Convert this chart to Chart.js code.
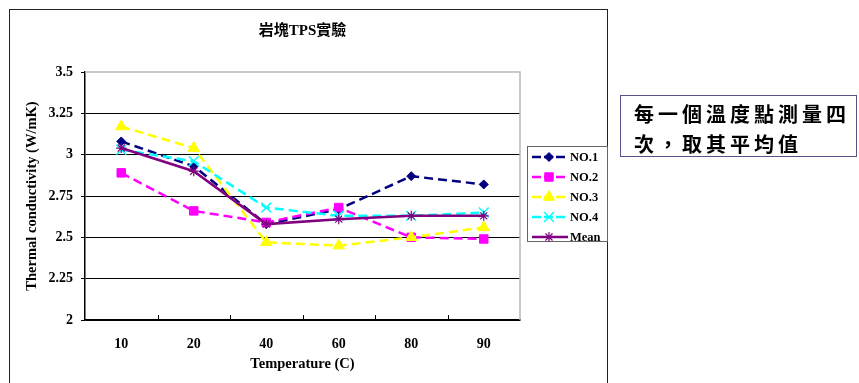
<!DOCTYPE html>
<html><head><meta charset="utf-8">
<script src="https://cdn.jsdelivr.net/npm/chart.js@4/dist/chart.umd.min.js"></script>
<style>
html,body{margin:0;padding:0;background:#fff;width:859px;height:383px;overflow:hidden;}
#wrap{position:relative;width:859px;height:383px;}
#frame{position:absolute;left:9px;top:9px;width:599px;height:420px;border:1.5px solid #222;box-sizing:border-box;}
canvas{position:absolute;left:0;top:0;}
#note{position:absolute;left:620px;top:95px;width:237px;height:62px;border:1.5px solid #55558a;box-sizing:border-box;font-family:"Noto Sans CJK TC","Noto Sans CJK SC",sans-serif;font-weight:bold;font-size:20px;line-height:30px;padding:3px 0 0 13px;letter-spacing:4px;color:#000;white-space:nowrap;}
</style></head>
<body>
<div id="wrap">
<div id="frame"></div>
<canvas id="c" width="859" height="383"></canvas>
<div id="note">每一個溫度點測量四<br>次，取其平均值</div>
</div>
<script>
const chartTitle = '岩塊TPS實驗';
const xTitle = 'Temperature (C)';
const yTitle = 'Thermal conductivity (W/mK)';
const categories = ['10','20','40','60','80','90'];
const yTickLabels = ['2','2.25','2.5','2.75','3','3.25','3.5'];
const seriesNames = ['NO.1','NO.2','NO.3','NO.4','Mean'];
const no1 = [3.08, 2.93, 2.58, 2.67, 2.87, 2.82];
const no2 = [2.89, 2.66, 2.59, 2.68, 2.50, 2.49];
const no3 = [3.17, 3.04, 2.47, 2.45, 2.50, 2.56];
const no4 = [3.03, 2.96, 2.68, 2.63, 2.63, 2.65];
const mean = [3.04, 2.90, 2.58, 2.61, 2.63, 2.63];

const SERIF = '"Liberation Serif","Noto Sans CJK TC",serif';

const styles = [
  {color:'#000080', dash:[9,5], pointStyle:'rectRot', radius:4.5, pbw:1},
  {color:'#FF00FF', dash:[9,5], pointStyle:'rect', radius:6, pbw:1},
  {color:'#FFFF00', dash:[9,5], pointStyle:'triangle', radius:6.5, pbw:1},
  {color:'#00FFFF', dash:[9,5], pointStyle:'crossRot', radius:7, pbw:1.5},
  {color:'#800080', dash:[], pointStyle:'star', radius:5, pbw:1.2}
];
const seriesData = [no1, no2, no3, no4, mean];

const datasets = seriesNames.map((name, i) => ({
  label: name,
  data: seriesData[i],
  borderColor: styles[i].color,
  backgroundColor: styles[i].color,
  borderWidth: 2.5,
  borderDash: styles[i].dash,
  pointStyle: styles[i].pointStyle,
  pointRadius: styles[i].radius,
  pointBorderWidth: styles[i].pbw,
  pointBackgroundColor: styles[i].color,
  pointBorderColor: styles[i].color,
  tension: 0,
  fill: false,
  order: seriesNames.length - i
}));

const decorPlugin = {
  id: 'decor',
  beforeDatasetsDraw(chart) {
    const {ctx, chartArea: a, scales: {x}} = chart;
    ctx.save();
    ctx.strokeStyle = '#b8b8b8';
    ctx.lineWidth = 1.5;
    ctx.beginPath();
    ctx.moveTo(a.left, a.top); ctx.lineTo(a.right, a.top); ctx.lineTo(a.right, a.bottom);
    ctx.stroke();
    ctx.strokeStyle = '#000';
    ctx.lineWidth = 1;
    for (let i = 1; i < categories.length; i++) {
      const px = Math.round((x.getPixelForTick(i - 1) + x.getPixelForTick(i)) / 2) + 0.5;
      ctx.beginPath(); ctx.moveTo(px, a.bottom); ctx.lineTo(px, a.bottom - 5); ctx.stroke();
    }
    ctx.restore();
  },
  afterDraw(chart) {
    const {ctx, chartArea: a} = chart;
    ctx.save();
    ctx.font = 'bold 15px ' + SERIF;
    ctx.fillStyle = '#000';
    ctx.textAlign = 'center';
    ctx.textBaseline = 'middle';
    ctx.fillText(chartTitle, (a.left + a.right) / 2, 31);
    const lx = a.right + 7, ly = a.top + 74, lw = 80, lh = 95;
    ctx.strokeStyle = '#666';
    ctx.lineWidth = 1;
    ctx.strokeRect(lx + 0.5, ly + 0.5, lw, lh);
    chart.data.datasets.forEach((ds, i) => {
      const y = ly + 11 + i * 20;
      ctx.save();
      ctx.strokeStyle = ds.borderColor;
      ctx.lineWidth = ds.borderWidth;
      ctx.setLineDash(ds.borderDash && ds.borderDash.length ? [9,3] : []);
      ctx.beginPath(); ctx.moveTo(lx + 5, y); ctx.lineTo(lx + 41, y); ctx.stroke();
      ctx.setLineDash([]);
      ctx.fillStyle = ds.pointBackgroundColor;
      ctx.strokeStyle = ds.pointBorderColor;
      ctx.lineWidth = ds.pointBorderWidth;
      Chart.helpers.drawPoint(ctx, {pointStyle: ds.pointStyle, radius: ds.pointRadius, rotation: 0, borderWidth: ds.pointBorderWidth}, lx + 22, y);
      ctx.restore();
      ctx.font = 'bold 12.5px ' + SERIF;
      ctx.fillStyle = '#000';
      ctx.textAlign = 'left';
      ctx.textBaseline = 'middle';
      ctx.fillText(ds.label, lx + 43, y + 1);
    });
    ctx.restore();
  }
};

new Chart(document.getElementById('c'), {
  type: 'line',
  data: {labels: categories, datasets},
  options: {
    responsive: false,
    animation: false,
    events: [],
    layout: {padding: {left: 10, top: 72, right: 339, bottom: 0}},
    plugins: {legend: {display: false}, title: {display: false}, tooltip: {enabled: false}},
    scales: {
      x: {
        type: 'category',
        offset: true,
        grid: {display: false},
        border: {display: true, color: '#000', width: 1.5},
        ticks: {color: '#000', padding: 8, font: {family: SERIF, size: 14, weight: 'bold'}, maxRotation: 0},
        title: {display: true, text: xTitle, color: '#000', font: {family: SERIF, size: 14.5, weight: 'bold'}, padding: {top: 0, bottom: 10}},
        afterFit(s) { s.height = 63; }
      },
      y: {
        min: 2, max: 3.5,
        grid: {
          color: (c) => (c.tick && c.tick.value === 3.5) ? 'rgba(0,0,0,0)' : '#000',
          tickColor: '#000',
          lineWidth: 1,
          drawTicks: true,
          tickLength: 4
        },
        border: {display: true, color: '#000', width: 1.5},
        ticks: {
          stepSize: 0.25,
          color: '#000',
          padding: 8,
          font: {family: SERIF, size: 14, weight: 'bold'},
          callback: (v, i) => yTickLabels[i]
        },
        title: {display: true, text: yTitle, color: '#000', font: {family: SERIF, size: 14.5, weight: 'bold'}, padding: {top: 14, bottom: 0}},
        afterFit(s) { s.width = 75; }
      }
    }
  },
  plugins: [decorPlugin]
});
</script>
</body></html>
